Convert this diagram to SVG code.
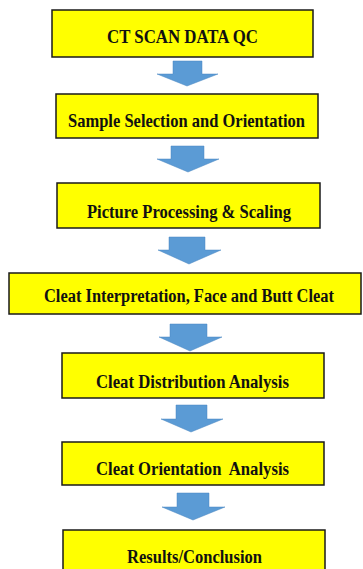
<svg xmlns="http://www.w3.org/2000/svg" width="363" height="569" viewBox="0 0 363 569">
<style>
.box{fill:#FFFF00;stroke:#1a1a1a;stroke-width:1.5}
.lbl{font-family:"Liberation Serif","Times New Roman",serif;font-weight:bold;font-size:19px;fill:#111;text-anchor:middle}
.arr{fill:#5B9BD5;stroke:#4a86c0;stroke-width:0.5}
</style>
<rect width="363" height="569" fill="#fff"/>
<g id="connectors">
<polygon class="arr" points="173,61 202,61 202,74 218,74 187,86 157,74 173,74"/>
<polygon class="arr" points="171,146 204,146 204,159 219,159 188,172 157,159 171,159"/>
<polygon class="arr" points="169,237 205,237 205,250 221,250 189,264 158,250 169,250"/>
<polygon class="arr" points="170,324 207,324 207,337 222,337 190,351 159,337 170,337"/>
<polygon class="arr" points="176,405 207,405 207,419 223,419 191,432 161,419 176,419"/>
<polygon class="arr" points="177,493 209,493 209,507 225,507 193,520 162,507 177,507"/>
</g>
<g id="n1"><rect class="box" x="52" y="10" width="261" height="47"/><text class="lbl" x="182.5" y="42.5" textLength="151" lengthAdjust="spacingAndGlyphs">CT SCAN DATA QC</text></g>
<g id="n2"><rect class="box" x="56" y="94" width="262" height="44"/><text class="lbl" x="186.5" y="126.5" textLength="237" lengthAdjust="spacingAndGlyphs">Sample Selection and Orientation</text></g>
<g id="n3"><rect class="box" x="57" y="183" width="263" height="45"/><text class="lbl" x="189" y="217.5" textLength="204" lengthAdjust="spacingAndGlyphs">Picture Processing &amp; Scaling</text></g>
<g id="n4"><rect class="box" x="9" y="273" width="352" height="41"/><text class="lbl" x="189" y="301.5" style="font-size:18px" textLength="290" lengthAdjust="spacingAndGlyphs">Cleat Interpretation, Face and Butt Cleat</text></g>
<g id="n5"><rect class="box" x="62" y="353" width="262" height="45"/><text class="lbl" x="192.5" y="387.5" textLength="193" lengthAdjust="spacingAndGlyphs">Cleat Distribution Analysis</text></g>
<g id="n6"><rect class="box" x="62" y="442" width="262" height="43"/><text class="lbl" x="192.5" y="475" textLength="193" lengthAdjust="spacingAndGlyphs" xml:space="preserve">Cleat Orientation  Analysis</text></g>
<g id="n7"><rect class="box" x="63" y="530" width="262" height="45"/><text class="lbl" x="194.5" y="563" textLength="135" lengthAdjust="spacingAndGlyphs">Results/Conclusion</text></g>
</svg>
